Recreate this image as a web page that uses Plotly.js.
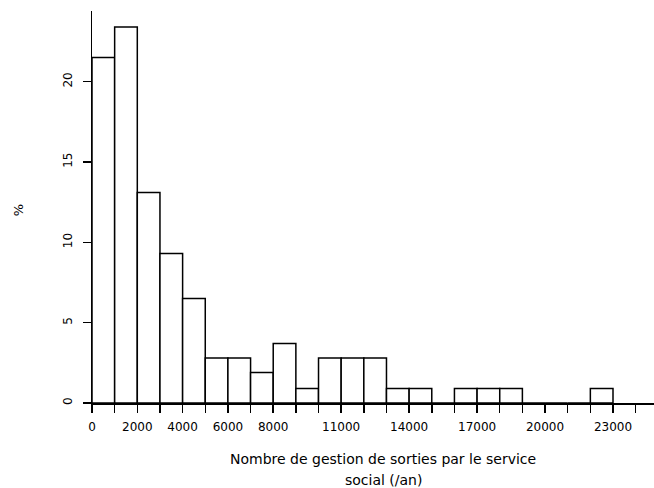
<!DOCTYPE html>
<html>
<head>
<meta charset="utf-8">
<script src="https://cdn.plot.ly/plotly-3.0.1.min.js"></script>
<style>
  html, body { margin: 0; padding: 0; background: #fff; }
  #chart { width: 654px; height: 488px; }
</style>
</head>
<body>
<div id="chart"></div>
<script>
// Histogram: share of establishments (%) by yearly number of discharges
// handled by the social service, in bins of 1000.
const binStart = [0, 1000, 2000, 3000, 4000, 5000, 6000, 7000, 8000, 9000,
                  10000, 11000, 12000, 13000, 14000, 15000, 16000, 17000,
                  18000, 19000, 20000, 21000, 22000];
const percent  = [21.5, 23.4, 13.1, 9.3, 6.5, 2.8, 2.8, 1.9, 3.7, 0.9,
                  2.8, 2.8, 2.8, 0.9, 0.9, 0, 0.9, 0.9,
                  0.9, 0, 0, 0, 0.9];
const binWidth = 1000;

const xTickVals = [0, 1000, 2000, 3000, 4000, 5000, 6000, 7000, 8000, 9000,
                   10000, 11000, 12000, 13000, 14000, 15000, 16000, 17000,
                   18000, 19000, 20000, 21000, 22000, 23000, 24000];
const xTickText = ['0', '', '2000', '', '4000', '', '6000', '', '8000', '',
                   '', '11000', '', '', '14000', '', '', '17000',
                   '', '', '20000', '', '', '23000', ''];
const yTickVals = [0, 5, 10, 15, 20];

const xTitleLines = ['Nombre de gestion de sorties par le service', 'social (/an)'];
const yTitle = '%';

const FONT = 'DejaVu Sans, Liberation Sans, Arial, sans-serif';

const trace = {
  type: 'bar',
  x: binStart,
  y: percent,
  width: binWidth,
  offset: 0,
  marker: { color: '#ffffff', line: { color: '#000000', width: 1.5 } },
  hoverinfo: 'skip'
};

const layout = {
  width: 654,
  height: 488,
  margin: { l: 92, r: 0, t: 11, b: 85 },
  paper_bgcolor: '#ffffff',
  plot_bgcolor: '#ffffff',
  showlegend: false,
  bargap: 0,
  font: { family: FONT, size: 13, color: '#000000' },
  xaxis: {
    range: [0, 24810],
    tickmode: 'array',
    tickvals: xTickVals,
    ticktext: xTickText,
    ticks: 'outside',
    ticklen: 8,
    tickwidth: 1.5,
    tickcolor: '#000000',
    showline: true,
    linecolor: '#000000',
    linewidth: 1.5,
    showgrid: false,
    zeroline: false,
    ticklabelstandoff: 4,
    tickfont: { family: FONT, size: 12, color: '#000000' }
  },
  yaxis: {
    range: [0, 24.4],
    tickmode: 'array',
    tickvals: yTickVals,
    ticks: 'outside',
    ticklen: 8,
    tickwidth: 1.5,
    tickcolor: '#000000',
    tickangle: -90,
    showline: true,
    linecolor: '#000000',
    linewidth: 1.5,
    showgrid: false,
    zeroline: false,
    ticklabelstandoff: 6,
    tickfont: { family: FONT, size: 12, color: '#000000' }
  },
  annotations: [
    {
      text: xTitleLines[0], xref: 'paper', yref: 'paper',
      x: 0.518, y: -0.1436, xanchor: 'center', yanchor: 'middle',
      showarrow: false, font: { family: FONT, size: 14, color: '#000000' }
    },
    {
      text: xTitleLines[1], xref: 'paper', yref: 'paper',
      x: 0.518, y: -0.197, xanchor: 'center', yanchor: 'middle',
      showarrow: false, font: { family: FONT, size: 14, color: '#000000' }
    },
    {
      text: yTitle, xref: 'paper', yref: 'paper',
      x: -0.1317, y: 0.4916, xanchor: 'center', yanchor: 'middle',
      textangle: -90,
      showarrow: false, font: { family: FONT, size: 13, color: '#000000' }
    }
  ]
};

Plotly.newPlot('chart', [trace], layout, { staticPlot: true, displayModeBar: false });
</script>
</body>
</html>
